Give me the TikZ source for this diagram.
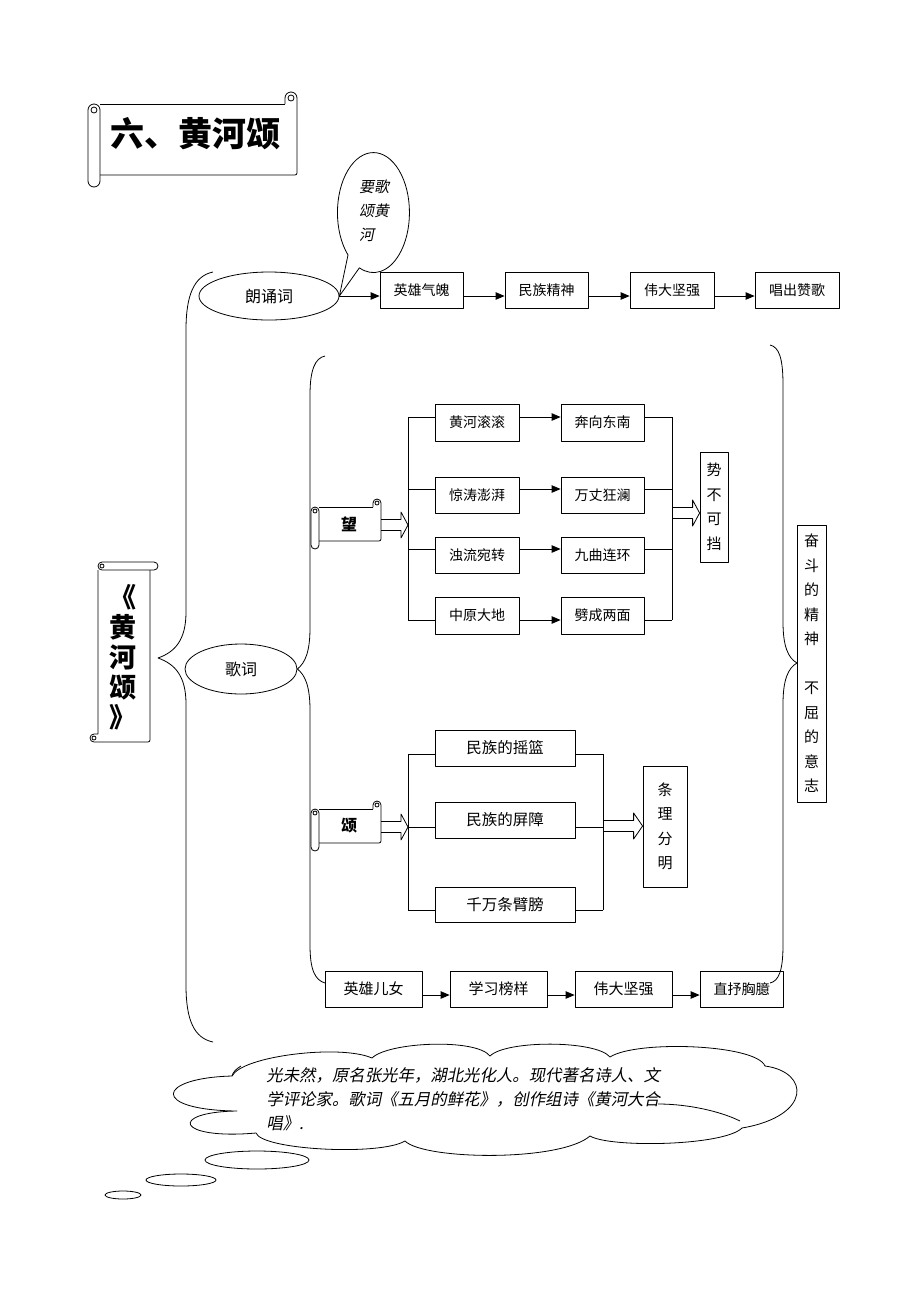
\documentclass[tikz,border=0pt]{standalone}
\usepackage{fontspec}
\setmainfont{Noto Sans CJK SC}
\newfontfamily\cjkit[FakeSlant=0.2]{Noto Sans CJK SC}
\usetikzlibrary{arrows.meta,shapes.geometric,calc}

\newcommand\hscroll[5]{%
 \draw (#1+2*#5,#2+2*#5) -- (#3-2*#5,#2+2*#5);
 \draw (#3-2*#5,#2+2*#5) -- (#3-2*#5,#2+#5) arc[start angle=180,end angle=360,radius=#5] [rounded corners=2pt] -- (#3,#4-2*#5) -- (#1+2*#5,#4-2*#5);
 \draw[rounded corners=#5pt] (#1,#2+2*#5) rectangle (#1+2*#5,#4);
 \draw (#3-#5,#2+#5) circle[radius=#5/2];
 \draw (#1+#5,#2+3*#5) circle[radius=#5/2];
}
\newcommand\vscroll[5]{%
 \draw (#1+2*#5,#2+2*#5) -- (#1+2*#5,#4-2*#5) -- (#1+#5,#4-2*#5) arc[start angle=270,end angle=90,radius=#5] [rounded corners=2pt] -- (#3-2*#5,#4) -- (#3-2*#5,#2+2*#5);
 \draw[rounded corners=#5pt] (#1+2*#5,#2) rectangle (#3,#2+2*#5);
 \draw (#1+#5,#4-#5) circle[radius=#5/2];
 \draw (#1+3*#5,#2+#5) circle[radius=#5/2];
}
\newcommand\dblarr[3]{% from, to, head length
 \draw (#1) ++(0,-5.5) -- ($(#2)+(-#3,-5.5)$) -- ($(#2)+(-#3,-13)$) -- (#2) -- ($(#2)+(-#3,13)$) -- ($(#2)+(-#3,5.5)$) -- ($(#1)+(0,5.5)$);
}

\begin{document}
\begin{tikzpicture}[x=1pt,y=-1pt,line width=0.8pt,line join=round,
  every node/.style={inner sep=0pt},
  box/.style={draw,rectangle,font=\fontsize{14}{16}\selectfont},
  bigbox/.style={draw,rectangle,font=\fontsize{15.5}{18}\selectfont},
  vbox/.style={draw,rectangle,align=center,font=\fontsize{15}{24.5}\selectfont},
  arr/.style={-{Triangle[length=9pt,width=7.5pt]}},
  oval/.style={draw,ellipse,font=\fontsize{16}{18}\selectfont},
  puff/.style={draw,ellipse}]
\useasboundingbox (0,0) rectangle (920,1302);

% ---------- title scroll ----------
\hscroll{88}{92}{297}{187}{6}
\node[font=\bfseries\fontsize{34}{36}\selectfont] (title) at (195,134) {六、黄河颂};

% ---------- left vertical scroll ----------
\vscroll{90}{562}{158}{742}{4}
\node[align=center,font=\bfseries\fontsize{27}{30}\selectfont] (main) at (123,657) {《\\黄\\河\\颂\\》};

% ---------- big brace ----------
\draw (213,272) .. controls (194,276) and (186,295) .. (186,330) -- (186,612)
  .. controls (186,640) and (175,652) .. (158,658)
  .. controls (175,664) and (186,676) .. (186,704) -- (186,985)
  .. controls (186,1020) and (194,1038) .. (213,1042);

% ---------- recitation row ----------
\node[oval,minimum width=140,minimum height=48] (lang) at (269,296) {朗诵词};
\draw (348,255) arc[start angle=135,end angle=473,x radius=36,y radius=60] -- (lang.east) -- cycle;
\node[align=left,font=\cjkit\fontsize{15}{24}\selectfont] (yao) at (374,211) {要歌\\颂黄\\河};

\node[box,minimum width=83,minimum height=36] (a1) at (421.5,290) {英雄气魄};
\node[box,minimum width=83,minimum height=36] (a2) at (546.5,290) {民族精神};
\node[box,minimum width=84,minimum height=36] (a3) at (672,290) {伟大坚强};
\node[box,minimum width=84,minimum height=36] (a4) at (797,290) {唱出赞歌};
\draw[arr] (lang.east) -- (lang.east -| a1.west);
\draw[arr] ([yshift=-6pt]a1.east) -- ([yshift=-6pt]a2.west);
\draw[arr] ([yshift=-6pt]a2.east) -- ([yshift=-6pt]a3.west);
\draw[arr] ([yshift=-6pt]a3.east) -- ([yshift=-6pt]a4.west);

% ---------- lyrics ----------
\node[oval,minimum width=112,minimum height=50] (geci) at (241,669) {歌词};
\draw (325,356) .. controls (315,358) and (310,370) .. (310,395) -- (310,628)
  .. controls (310,652) and (305,663) .. (geci.east)
  .. controls (305,675) and (310,686) .. (310,710) -- (310,945)
  .. controls (310,970) and (315,980) .. (325,983);

% right brace
\draw (770,345) .. controls (779,347) and (783,358) .. (783,385) -- (783,622)
  .. controls (783,646) and (788,658) .. (797,663)
  .. controls (788,668) and (783,680) .. (783,704) -- (783,945)
  .. controls (783,970) and (779,981) .. (770,983);
\node[vbox,minimum width=29,minimum height=277] (fen) at (811.5,663.5) {奋\\斗\\的\\精\\神\\\phantom{不}\\不\\屈\\的\\意\\志};

% ---------- 望 branch ----------
\hscroll{311}{499}{381}{549}{4}
\node[font=\bfseries\fontsize{16}{18}\selectfont] (wang) at (349,524) {望};
\coordinate (wa0) at (381,525);
\coordinate (wa1) at (408,525);
\dblarr{wa0}{wa1}{7}

\node[box,minimum width=84,minimum height=37] (w1) at (477,422.5) {黄河滚滚};
\node[box,minimum width=84,minimum height=36] (w2) at (477,495) {惊涛澎湃};
\node[box,minimum width=84,minimum height=36] (w3) at (477,555) {浊流宛转};
\node[box,minimum width=84,minimum height=37] (w4) at (477,615.5) {中原大地};
\node[box,minimum width=83,minimum height=37] (r1) at (602.5,422.5) {奔向东南};
\node[box,minimum width=83,minimum height=36] (r2) at (602.5,495) {万丈狂澜};
\node[box,minimum width=83,minimum height=36] (r3) at (602.5,555) {九曲连环};
\node[box,minimum width=83,minimum height=37] (r4) at (602.5,615.5) {劈成两面};
\coordinate (wl1) at (408,417);
\coordinate (wl2) at (408,489);
\coordinate (wl3) at (408,549);
\coordinate (wl4) at (408,620);
\coordinate (wr1) at (672,417);
\coordinate (wr2) at (672,489);
\coordinate (wr3) at (672,549);
\coordinate (wr4) at (672,620);
\draw (wl1) -- (wl4);
\draw (wr1) -- (wr4);
\foreach \i in {1,...,4}{
  \draw (wl\i) -- (wl\i -| w\i.west);
  \draw[arr] (wl\i -| w\i.east) -- (wl\i -| r\i.west);
  \draw (wr\i -| r\i.east) -- (wr\i);
}
\node[vbox,minimum width=28,minimum height=110] (shi) at (714,507) {势\\不\\可\\挡};
\coordinate (wb0) at (672,513);
\coordinate (wb1) at (shi.west |- wb0);
\dblarr{wb0}{wb1}{7}

% ---------- 颂 branch ----------
\hscroll{311}{801}{381}{851}{4}
\node[font=\bfseries\fontsize{16}{18}\selectfont] (song) at (349,826) {颂};
\coordinate (sa0) at (381,827);
\coordinate (sa1) at (408,827);
\dblarr{sa0}{sa1}{7}

\node[bigbox,minimum width=140,minimum height=36] (s1) at (505,748) {民族的摇篮};
\node[bigbox,minimum width=140,minimum height=36] (s2) at (505,820) {民族的屏障};
\node[bigbox,minimum width=140,minimum height=35] (s3) at (505,904.5) {千万条臂膀};
\coordinate (sl1) at (408,754);
\coordinate (sl2) at (408,827);
\coordinate (sl3) at (408,910);
\coordinate (sr1) at (603,754);
\coordinate (sr2) at (603,827);
\coordinate (sr3) at (603,910);
\draw (sl1) -- (sl3);
\draw (sr1) -- (sr3);
\foreach \i in {1,2,3}{
  \draw (sl\i) -- (sl\i -| s\i.west);
  \draw (sr\i -| s\i.east) -- (sr\i);
}
\node[vbox,minimum width=44,minimum height=121] (tiao) at (665,826.5) {条\\理\\分\\明};
\coordinate (sb0) at (603,826);
\coordinate (sb1) at (tiao.west |- sb0);
\dblarr{sb0}{sb1}{9}

% ---------- bottom row ----------
\node[bigbox,font=\fontsize{15}{17}\selectfont,minimum width=97,minimum height=36] (b1) at (373.5,989) {英雄儿女};
\node[bigbox,font=\fontsize{15}{17}\selectfont,minimum width=97,minimum height=36] (b2) at (498.5,989) {学习榜样};
\node[bigbox,font=\fontsize{15}{17}\selectfont,minimum width=97,minimum height=36] (b3) at (623.5,989) {伟大坚强};
\node[box,minimum width=83,minimum height=36] (b4) at (741.5,989) {直抒胸臆};
\draw[arr] ([yshift=-6pt]b1.east) -- ([yshift=-6pt]b2.west);
\draw[arr] ([yshift=-6pt]b2.east) -- ([yshift=-6pt]b3.west);
\draw[arr] ([yshift=-6pt]b3.east) -- ([yshift=-6pt]b4.west);

% ---------- cloud ----------
\draw (232,1076) .. controls (242,1056) and (340,1044) .. (372,1058)
  .. controls (388,1042) and (476,1038) .. (490,1056)
  .. controls (506,1040) and (596,1040) .. (610,1057)
  .. controls (636,1040) and (756,1044) .. (765,1066)
  .. controls (810,1072) and (812,1116) .. (742,1128)
  .. controls (724,1146) and (610,1148) .. (590,1136)
  .. controls (560,1162) and (424,1160) .. (405,1141)
  .. controls (380,1156) and (262,1150) .. (256,1133)
  .. controls (176,1140) and (168,1112) .. (237,1111)
  .. controls (150,1110) and (156,1078) .. cycle;
\draw (232,1076) .. controls (233,1072) and (236,1069) .. (241,1066);
\draw (658,1104) .. controls (690,1104) and (722,1112) .. (740,1121);
\node[align=left,anchor=north west,font=\cjkit\fontsize{16.4}{24}\selectfont] (bio) at (266,1067)
 {光未然，原名张光年，湖北光化人。现代著名诗人、文\\学评论家。歌词《五月的鲜花》，创作组诗《黄河大合\\唱》.};
\node[puff,minimum width=104,minimum height=18] (p1) at (257,1160) {};
\node[puff,minimum width=70,minimum height=12] (p2) at (181,1180) {};
\node[puff,minimum width=36,minimum height=8] (p3) at (123,1195) {};
\end{tikzpicture}
\end{document}
